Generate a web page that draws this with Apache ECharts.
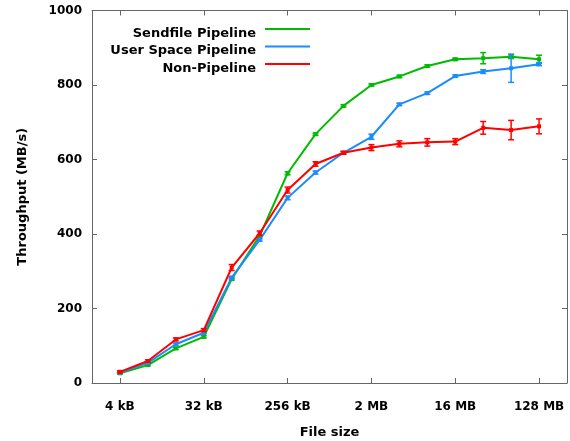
<!DOCTYPE html>
<html>
<head>
<meta charset="utf-8">
<script src="https://cdn.jsdelivr.net/npm/echarts@6/dist/echarts.min.js"></script>
<style>html,body{margin:0;padding:0;background:#fff}#c{width:570px;height:441px}</style>
</head>
<body>
<div id="c"></div>
<script>
var fileSizes = ['4 kB','8 kB','16 kB','32 kB','64 kB','128 kB','256 kB','512 kB','1 MB','2 MB','4 MB','8 MB','16 MB','32 MB','64 MB','128 MB'];
var tickIndices = [0, 3, 6, 9, 12, 15];
var sendfile = [26, 48, 93, 124, 279, 395, 563, 668, 744, 800, 823, 851, 869, 872, 876, 869];
var sendfileErr = [2, 2, 3, 3, 3, 3, 4, 3, 3, 3, 3, 3, 3, 15, 5, 11];
var userSpace = [28, 54, 104, 135, 283, 384, 497, 565, 618, 661, 748, 778, 824, 836, 845, 856];
var userSpaceErr = [2, 2, 3, 3, 3, 3, 5, 4, 3, 7, 3, 3, 3, 5, 38, 4];
var nonPipe = [30, 59, 117, 142, 310, 402, 518, 588, 618, 632, 642, 646, 648, 685, 679, 689];
var nonPipeErr = [3, 3, 4, 4, 8, 6, 8, 6, 4, 8, 8, 10, 8, 17, 26, 20];

var names = ['Sendfile Pipeline', 'User Space Pipeline', 'Non-Pipeline'];
var colors = ['#00bb00', '#1a8cff', '#ff0000'];
var vals = [sendfile, userSpace, nonPipe];
var errs = [sendfileErr, userSpaceErr, nonPipeErr];

var font = 'DejaVu Sans';
var axisLineStyle = {color: '#666', width: 1};

function pts(arr) { return arr.map(function (v, i) { return [i, v]; }); }
function errPts(arr, e) { return arr.map(function (v, i) { return [i, v, e[i]]; }); }

var series = [];
for (var k = 0; k < 3; k++) {
  (function (k) {
    series.push({
      name: names[k], type: 'line', data: pts(vals[k]),
      symbol: 'rect', symbolSize: 4, showSymbol: true,
      lineStyle: {color: colors[k], width: 2},
      itemStyle: {color: colors[k]},
      z: 3 + k * 2, animation: false, silent: true
    });
    series.push({
      name: names[k] + ' err', type: 'custom', data: errPts(vals[k], errs[k]),
      z: 4 + k * 2, animation: false, silent: true,
      renderItem: function (params, api) {
        var x = api.value(0), v = api.value(1), e = api.value(2);
        var t = api.coord([x, v + e]), b = api.coord([x, v - e]);
        var hw = 3;
        var st = {stroke: colors[k], lineWidth: 1.5};
        return {type: 'group', children: [
          {type: 'line', shape: {x1: t[0], y1: t[1], x2: b[0], y2: b[1]}, style: st},
          {type: 'line', shape: {x1: t[0] - hw, y1: t[1], x2: t[0] + hw, y2: t[1]}, style: st},
          {type: 'line', shape: {x1: b[0] - hw, y1: b[1], x2: b[0] + hw, y2: b[1]}, style: st}
        ]};
      }
    });
  })(k);
}

var legendTops = [27, 44.5, 62];
var iconPath = 'path://M0,0H45V2H0Z M0,10.9H0.1V11H0Z';
var legends = names.map(function (n, i) {
  return {
    data: [{name: n, icon: iconPath, itemStyle: {color: colors[i]}}],
    orient: 'vertical', align: 'right', right: 260, top: legendTops[i], padding: 0,
    itemWidth: 45, itemHeight: 11, selectedMode: false,
    textStyle: {fontFamily: font, fontWeight: 'bold', fontSize: 13, color: '#000', padding: [0, 4, 0, 0]}
  };
});

var chart = echarts.init(document.getElementById('c'), null, {renderer: 'canvas'});
chart.setOption({
  animation: false,
  backgroundColor: '#fff',
  legend: legends,
  grid: {left: 92, right: 3, top: 10.5, bottom: 58, containLabel: false, outerBoundsMode: 'none'},
  xAxis: [{
    type: 'value', min: -1, max: 16, position: 'bottom',
    name: 'File size', nameLocation: 'middle', nameGap: 43,
    nameTextStyle: {fontFamily: font, fontWeight: 'bold', fontSize: 13, color: '#000'},
    axisLine: {show: true, onZero: false, lineStyle: axisLineStyle},
    axisTick: {show: true, inside: true, length: 5, customValues: tickIndices, lineStyle: axisLineStyle},
    axisLabel: {customValues: tickIndices, margin: 18, fontFamily: font, fontWeight: 'bold', fontSize: 12, color: '#000',
      formatter: function (v) { return fileSizes[Math.round(v)]; }},
    splitLine: {show: false}
  }, {
    type: 'value', min: -1, max: 16, position: 'top',
    axisLine: {show: true, onZero: false, lineStyle: axisLineStyle},
    axisTick: {show: true, inside: true, length: 5, customValues: tickIndices, lineStyle: axisLineStyle},
    axisLabel: {show: false}, splitLine: {show: false}
  }],
  yAxis: [{
    type: 'value', min: 0, max: 1000, interval: 200, position: 'left',
    name: 'Throughput (MB/s)', nameLocation: 'middle', nameGap: 63,
    nameTextStyle: {fontFamily: font, fontWeight: 'bold', fontSize: 13, color: '#000'},
    axisLine: {show: true, onZero: false, lineStyle: axisLineStyle},
    axisTick: {show: true, inside: true, length: 5, lineStyle: axisLineStyle},
    axisLabel: {margin: 10, fontFamily: font, fontWeight: 'bold', fontSize: 12, color: '#000', padding: [6, 0, 0, 0],
      formatter: function (v) { return String(v); }},
    splitLine: {show: false}
  }, {
    type: 'value', min: 0, max: 1000, interval: 200, position: 'right',
    axisLine: {show: true, onZero: false, lineStyle: axisLineStyle},
    axisTick: {show: true, inside: true, length: 5, lineStyle: axisLineStyle},
    axisLabel: {show: false}, splitLine: {show: false}
  }],
  series: series
});
</script>
</body>
</html>
